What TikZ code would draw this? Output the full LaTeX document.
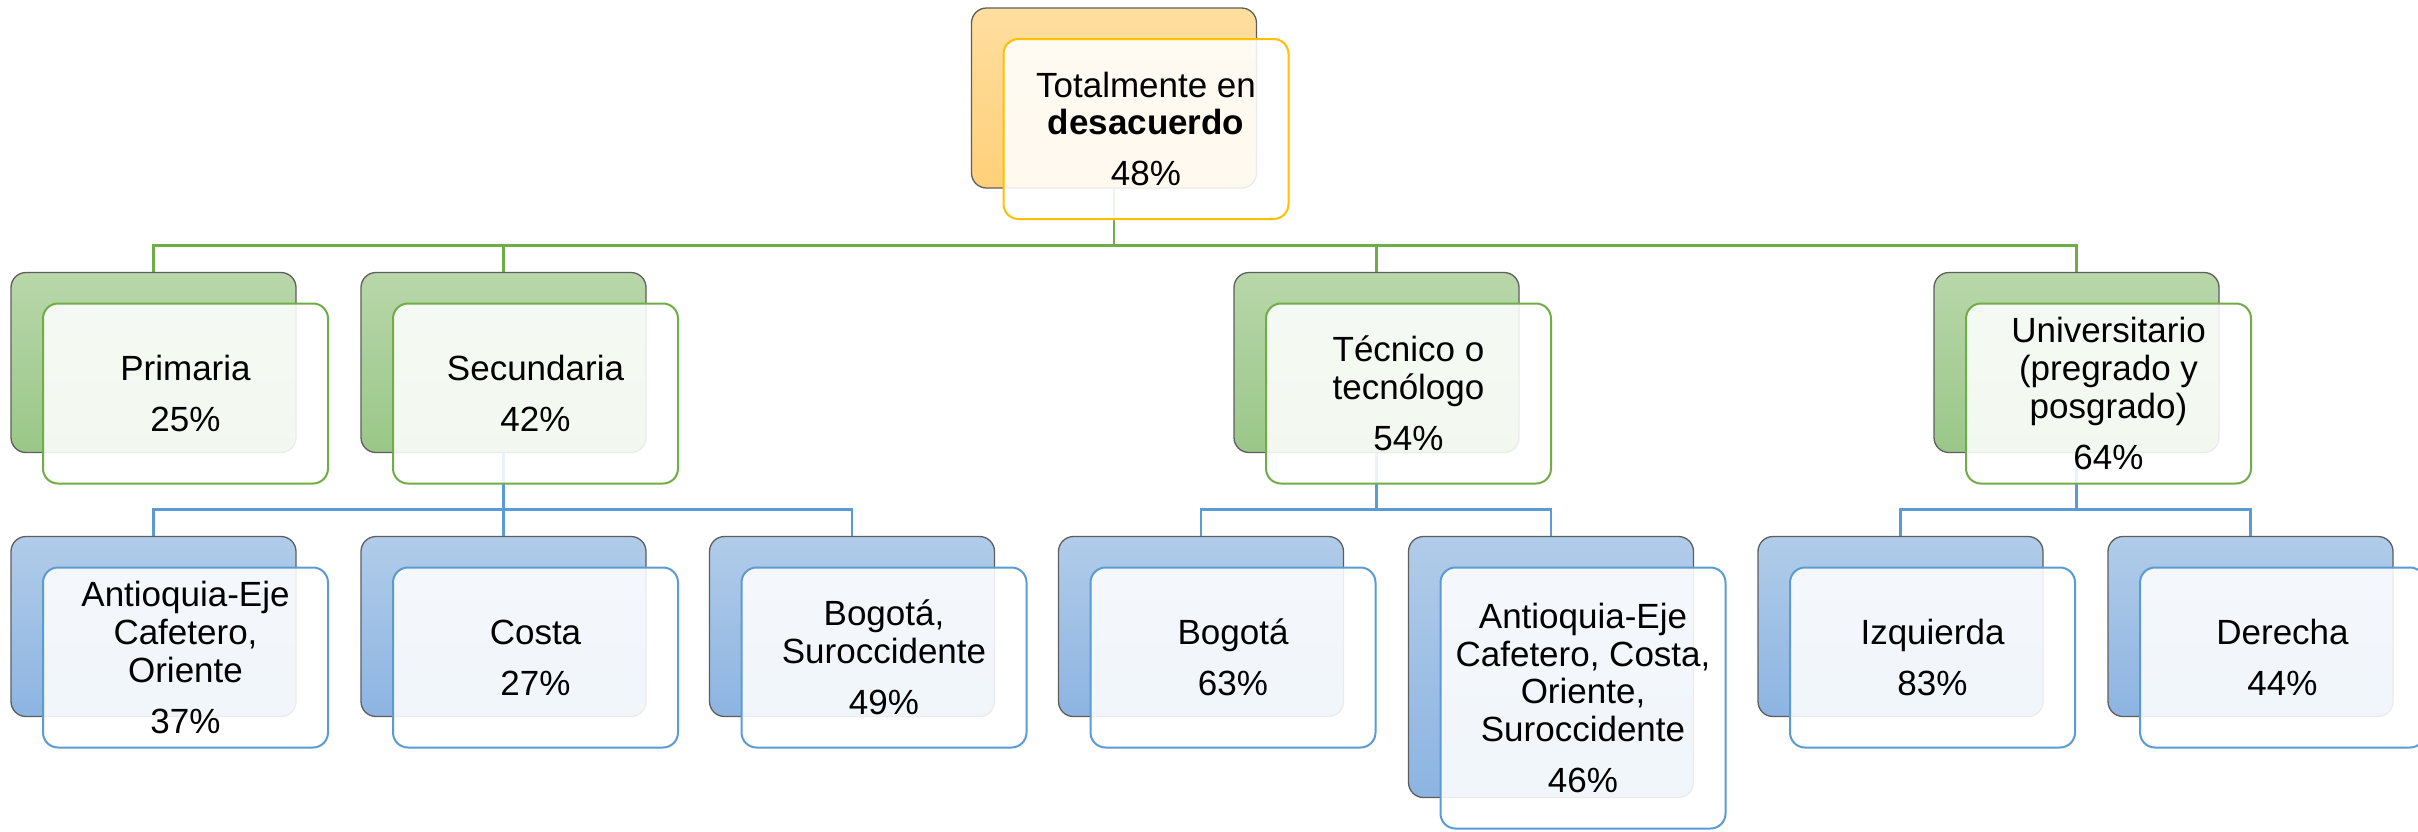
\documentclass[tikz,border=0pt]{standalone}
\usepackage{fontspec}
\setmainfont{Liberation Sans}
\pgfdeclarelayer{bg}
\pgfsetlayers{bg,main}
\definecolor{orTop}{HTML}{FFDE9F}
\definecolor{orBot}{HTML}{FFD079}
\definecolor{grTop}{HTML}{B8D7AA}
\definecolor{grBot}{HTML}{9AC788}
\definecolor{blTop}{HTML}{B1CCE9}
\definecolor{blBot}{HTML}{8DB4E2}
\definecolor{backline}{HTML}{5E5E5E}
\definecolor{gold}{HTML}{FFC000}
\definecolor{grLine}{HTML}{70AD47}
\definecolor{blLine}{HTML}{5B9BD5}
\tikzset{
  backbox/.style={rectangle, rounded corners=15pt, minimum width=285pt, minimum height=180pt,
    draw=backline, line width=1.3pt, inner sep=0pt},
  backor/.style={backbox, top color=orTop, bottom color=orBot},
  backgr/.style={backbox, top color=grTop, bottom color=grBot},
  backbl/.style={backbox, top color=blTop, bottom color=blBot},
  frontbox/.style={rectangle, rounded corners=15pt, minimum width=285pt, minimum height=180pt,
    fill=white, fill opacity=0.88, text opacity=1, line width=2pt, align=center,
    font=\fontsize{35}{37.7}\selectfont, inner sep=0pt},
  frontor/.style={frontbox, draw=gold},
  frontgr/.style={frontbox, draw=grLine},
  frontbl/.style={frontbox, draw=blLine},
  tall/.style={minimum height=261pt},
  gconn/.style={draw=grLine, line width=2.6pt},
  bconn/.style={draw=blLine, line width=2.6pt},
}
\newcommand{\pgap}{\\[13.3pt]}
\begin{document}
\begin{tikzpicture}[x=1pt,y=-1pt]
\useasboundingbox (0,0) rectangle (2418,831);
% top
\node[backor] (tb) at (1114,98) {};
\node[frontor] (tf) at ([shift={(32,31)}]tb.center) {Totalmente en\\\textbf{desacuerdo}\pgap 48\%};
% level 2
\node[backgr] (pb) at (153.5,362.5) {};
\node[frontgr] (pf) at ([shift={(32,31)}]pb.center) {Primaria\pgap 25\%};
\node[backgr] (sb) at (503.5,362.5) {};
\node[frontgr] (sf) at ([shift={(32,31)}]sb.center) {Secundaria\pgap 42\%};
\node[backgr] (tcb) at (1376.5,362.5) {};
\node[frontgr] (tcf) at ([shift={(32,31)}]tcb.center) {Técnico o\\tecnólogo\pgap 54\%};
\node[backgr] (ub) at (2076.5,362.5) {};
\node[frontgr] (uf) at ([shift={(32,31)}]ub.center) {Universitario\\(pregrado y\\posgrado)\pgap 64\%};
% level 3
\node[backbl] (ab) at (153.5,626.5) {};
\node[frontbl] (af) at ([shift={(32,31)}]ab.center) {Antioquia-Eje\\Cafetero,\\Oriente\pgap 37\%};
\node[backbl] (cb) at (503.5,626.5) {};
\node[frontbl] (cf) at ([shift={(32,31)}]cb.center) {Costa\pgap 27\%};
\node[backbl] (bsb) at (852,626.5) {};
\node[frontbl] (bsf) at ([shift={(32,31)}]bsb.center) {Bogotá,\\Suroccidente\pgap 49\%};
\node[backbl] (bb) at (1201,626.5) {};
\node[frontbl] (bf) at ([shift={(32,31)}]bb.center) {Bogotá\pgap 63\%};
\node[backbl, tall] (ab2) at (1551,667) {};
\node[frontbl, tall] (af2) at ([shift={(32,31)}]ab2.center) {Antioquia-Eje\\Cafetero, Costa,\\Oriente,\\Suroccidente\pgap 46\%};
\node[backbl] (ib) at (1900.5,626.5) {};
\node[frontbl] (if) at ([shift={(32,31)}]ib.center) {Izquierda\pgap 83\%};
\node[backbl] (db) at (2250.5,626.5) {};
\node[frontbl] (df) at ([shift={(32,31)}]db.center) {Derecha\pgap 44\%};
% connectors
\begin{pgfonlayer}{bg}
\fill[white] (0,0) rectangle (2418,831);
\draw[gconn] (tb.south) -- ++(0,57) coordinate (gj) -| (pb.north);
\draw[gconn] (gj) -| (sb.north);
\draw[gconn] (gj) -| (tcb.north);
\draw[gconn] (gj) -| (ub.north);
\draw[bconn] (sb.south) -- ++(0,56.5) coordinate (sj) -| (ab.north);
\draw[bconn] (sj) -| (cb.north);
\draw[bconn] (sj) -| (bsb.north);
\draw[bconn] (tcb.south) -- ++(0,56.5) coordinate (tj) -| (bb.north);
\draw[bconn] (tj) -| (ab2.north);
\draw[bconn] (ub.south) -- ++(0,56.5) coordinate (uj) -| (ib.north);
\draw[bconn] (uj) -| (db.north);
\end{pgfonlayer}
\end{tikzpicture}
\end{document}
